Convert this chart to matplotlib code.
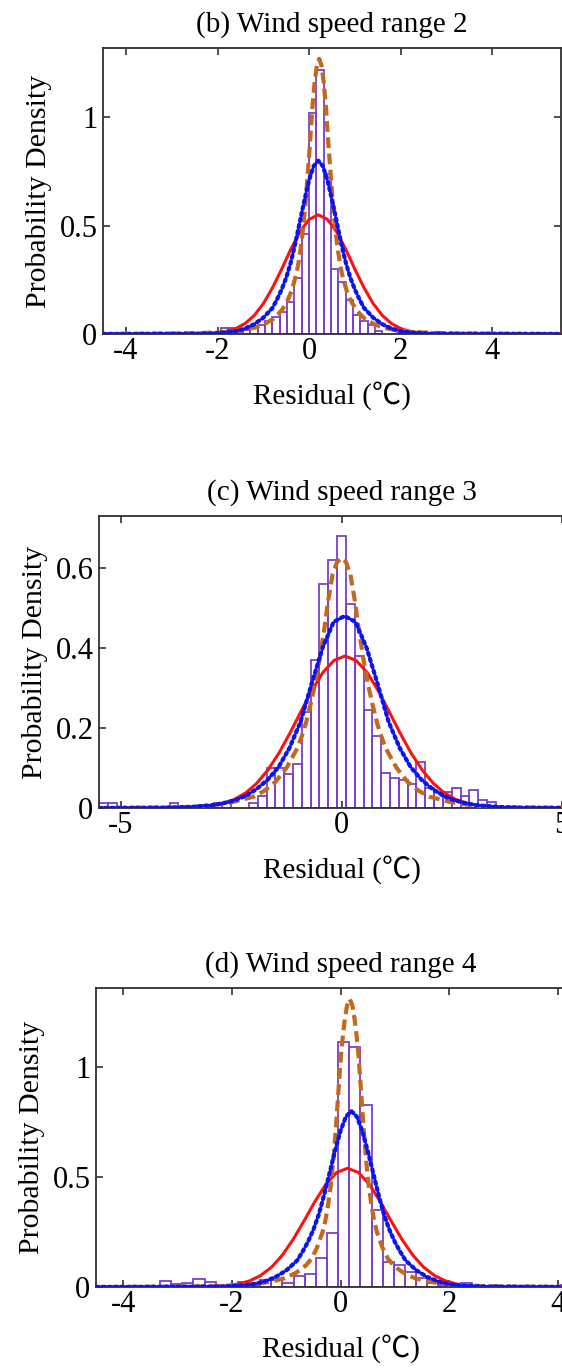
"""
plot.py - residual probability density by wind speed range (histogram + fitted pdfs).
"""

from __future__ import annotations

import matplotlib

matplotlib.use("Agg")
import matplotlib.pyplot as plt
from matplotlib.ticker import FormatStrFormatter

# ---------------------------------------------------------------- data
TITLES = ["(b) Wind speed range 2", "(c) Wind speed range 3", "(d) Wind speed range 4"]
XLABEL = "Residual (\u2103)"
YLABEL = "Probability Density"

# (b) wind speed range 2
B_HIST_CENTERS = [-3.72, -2.78, -2.32, -2.16, -1.84, -1.68, -1.52, -1.36, -1.2, -1.04,
                  -0.88, -0.72, -0.56, -0.4, -0.24, -0.08, 0.08, 0.24, 0.4, 0.56,
                  0.72, 0.88, 1.04, 1.2, 1.36, 1.52, 2.0, 2.16, 2.32, 2.48, 2.64]
B_HIST_HEIGHTS = [0.006, 0.006, 0.006, 0.006, 0.03, 0.03, 0.01, 0.02, 0.03, 0.04,
                  0.06, 0.08, 0.10, 0.15, 0.26, 0.46, 1.02, 1.22, 0.74, 0.30,
                  0.24, 0.155, 0.09, 0.06, 0.04, 0.015, 0.006, 0.006, 0.006, 0.006, 0.006]
B_RED_X = [-4.5, -2.4, -2.2, -2.0, -1.8, -1.6, -1.4, -1.2, -1.0, -0.8, -0.6, -0.4, -0.2,
           0.0, 0.2, 0.4, 0.6, 0.8, 1.0, 1.2, 1.4, 1.6, 1.8, 2.0, 2.2, 2.4, 2.6, 2.8, 5.5]
B_RED_Y = [0, 0.0009, 0.0024, 0.0055, 0.012, 0.025, 0.048, 0.085, 0.140, 0.213, 0.299,
           0.391, 0.472, 0.529, 0.550, 0.529, 0.472, 0.391, 0.299, 0.213, 0.140, 0.085,
           0.048, 0.025, 0.012, 0.0055, 0.0024, 0.0009, 0]
B_BLUE_X = [-4.5, -2.2, -1.8, -1.6, -1.4, -1.2, -1.0, -0.8, -0.7, -0.6, -0.5, -0.4, -0.3,
            -0.2, -0.1, 0.0, 0.1, 0.2, 0.3, 0.4, 0.5, 0.6, 0.7, 0.8, 0.9, 1.0, 1.1, 1.2,
            1.4, 1.6, 1.8, 2.0, 2.2, 2.6, 5.5]
B_BLUE_Y = [0, 0.002, 0.007, 0.013, 0.025, 0.045, 0.075, 0.12, 0.16, 0.205, 0.26, 0.33,
            0.42, 0.52, 0.62, 0.71, 0.775, 0.80, 0.775, 0.71, 0.62, 0.52, 0.42, 0.33,
            0.26, 0.205, 0.16, 0.12, 0.075, 0.045, 0.025, 0.013, 0.007, 0.002, 0]
B_BROWN_X = [-4.5, -2.78, -2.28, -1.78, -1.38, -1.18, -0.98, -0.78, -0.68, -0.58, -0.48,
             -0.38, -0.28, -0.23, -0.18, -0.13, -0.08, -0.03, 0.02, 0.07, 0.12, 0.17,
             0.22, 0.27, 0.32, 0.37, 0.42, 0.47, 0.52, 0.57, 0.62, 0.67, 0.72, 0.82,
             0.92, 1.02, 1.12, 1.22, 1.42, 1.62, 1.82, 2.22, 2.72, 3.22, 5.5]
B_BROWN_Y = [0, 0.002, 0.005, 0.01, 0.02, 0.03, 0.045, 0.07, 0.09, 0.115, 0.15, 0.20,
             0.275, 0.33, 0.40, 0.49, 0.60, 0.74, 0.88, 1.04, 1.16, 1.24, 1.27, 1.24,
             1.16, 1.04, 0.88, 0.74, 0.60, 0.49, 0.40, 0.33, 0.275, 0.20, 0.15, 0.115,
             0.09, 0.07, 0.045, 0.03, 0.02, 0.01, 0.005, 0.002, 0]

# (c) wind speed range 3
C_HIST_CENTERS = [-5.4, -5.2, -3.8, -2.8, -2.6, -2.0, -1.8, -1.6, -1.4, -1.2, -1.0, -0.8,
                  -0.6, -0.4, -0.2, 0.0, 0.2, 0.4, 0.6, 0.8, 1.0, 1.2, 1.4, 1.6, 1.8,
                  2.0, 2.2, 2.4, 2.6, 2.8, 3.0, 3.2, 3.4, 5.2]
C_HIST_HEIGHTS = [0.012, 0.012, 0.012, 0.012, 0.012, 0.012, 0.03, 0.10, 0.10, 0.085,
                  0.11, 0.24, 0.37, 0.56, 0.62, 0.68, 0.51, 0.38, 0.245, 0.18, 0.087,
                  0.075, 0.07, 0.06, 0.115, 0.05, 0.04, 0.04, 0.05, 0.03, 0.045, 0.02,
                  0.015, 0.01]
C_RED_X = [-5.5, -3.92, -3.42, -2.92, -2.67, -2.42, -2.17, -1.92, -1.67, -1.42, -1.17,
           -0.92, -0.67, -0.42, -0.17, 0.08, 0.33, 0.58, 0.83, 1.08, 1.33, 1.58, 1.83,
           2.08, 2.33, 2.58, 2.83, 3.08, 3.58, 4.08, 5.5]
C_RED_Y = [0, 0.0003, 0.0015, 0.0064, 0.012, 0.022, 0.038, 0.062, 0.095, 0.137, 0.187,
           0.241, 0.294, 0.339, 0.369, 0.38, 0.369, 0.339, 0.294, 0.241, 0.187, 0.137,
           0.095, 0.062, 0.038, 0.022, 0.012, 0.0064, 0.0015, 0.0003, 0]
C_BLUE_X = [-5.5, -3.93, -3.43, -2.93, -2.68, -2.43, -2.18, -1.93, -1.68, -1.43, -1.18,
            -0.93, -0.68, -0.43, -0.18, 0.07, 0.32, 0.57, 0.82, 1.07, 1.32, 1.57, 1.82,
            2.07, 2.32, 2.57, 2.82, 3.07, 3.57, 4.07, 5.5]
C_BLUE_Y = [0, 0.001, 0.0025, 0.007, 0.012, 0.019, 0.03, 0.047, 0.07, 0.102, 0.15, 0.215,
            0.31, 0.40, 0.465, 0.48, 0.465, 0.40, 0.31, 0.215, 0.15, 0.102, 0.07, 0.047,
            0.03, 0.019, 0.012, 0.007, 0.0025, 0.001, 0]
C_BROWN_X = [-5.5, -4.0, -3.5, -3.0, -2.5, -2.0, -1.75, -1.5, -1.25, -1.0, -0.9, -0.8,
             -0.7, -0.6, -0.5, -0.4, -0.3, -0.2, -0.1, 0.0, 0.1, 0.2, 0.3, 0.4, 0.5, 0.6,
             0.7, 0.8, 0.9, 1.0, 1.25, 1.5, 1.75, 2.0, 2.5, 3.0, 3.5, 4.0, 5.5]
C_BROWN_Y = [0, 0.001, 0.0025, 0.006, 0.014, 0.028, 0.043, 0.065, 0.10, 0.15, 0.18, 0.215,
             0.26, 0.31, 0.37, 0.44, 0.52, 0.585, 0.615, 0.625, 0.615, 0.585, 0.52, 0.44,
             0.37, 0.31, 0.26, 0.215, 0.18, 0.15, 0.10, 0.065, 0.043, 0.028, 0.014,
             0.006, 0.0025, 0.001, 0]

# (d) wind speed range 4
D_HIST_CENTERS = [-3.22, -3.015, -2.81, -2.605, -2.4, -1.785, -1.58, -1.375, -1.17,
                  -0.965, -0.76, -0.555, -0.35, -0.145, 0.06, 0.265, 0.47, 0.675, 0.88,
                  1.085, 1.29, 1.495, 1.70, 1.905, 2.315, 4.16]
D_HIST_HEIGHTS = [0.026, 0.012, 0.02, 0.035, 0.025, 0.025, 0.01, 0.03, 0.03, 0.02, 0.05,
                  0.06, 0.13, 0.245, 1.115, 1.09, 0.83, 0.35, 0.115, 0.10, 0.07, 0.04,
                  0.02, 0.01, 0.02, 0.01]
D_RED_X = [-4.5, -2.67, -2.27, -2.07, -1.87, -1.67, -1.47, -1.27, -1.07, -0.87, -0.67,
           -0.47, -0.27, -0.07, 0.13, 0.33, 0.53, 0.73, 0.93, 1.13, 1.33, 1.53, 1.73,
           1.93, 2.13, 2.33, 2.53, 2.93, 4.5]
D_RED_Y = [0, 0.0004, 0.0028, 0.0065, 0.014, 0.028, 0.052, 0.090, 0.145, 0.217, 0.301,
           0.389, 0.467, 0.521, 0.54, 0.521, 0.467, 0.389, 0.301, 0.217, 0.145, 0.090,
           0.052, 0.028, 0.014, 0.0065, 0.0028, 0.0004, 0]
D_BLUE_X = [-4.5, -2.2, -1.8, -1.6, -1.4, -1.2, -1.0, -0.8, -0.7, -0.6, -0.5, -0.4, -0.3,
            -0.2, -0.1, 0.0, 0.1, 0.2, 0.3, 0.4, 0.5, 0.6, 0.7, 0.8, 0.9, 1.0, 1.1, 1.2,
            1.4, 1.6, 1.8, 2.0, 2.2, 2.6, 4.5]
D_BLUE_Y = [0, 0.002, 0.007, 0.013, 0.025, 0.045, 0.075, 0.12, 0.16, 0.205, 0.26, 0.33,
            0.42, 0.52, 0.62, 0.71, 0.775, 0.80, 0.775, 0.71, 0.62, 0.52, 0.42, 0.33,
            0.26, 0.205, 0.16, 0.12, 0.075, 0.045, 0.025, 0.013, 0.007, 0.002, 0]
D_BROWN_X = [-4.5, -2.83, -2.33, -1.83, -1.43, -1.23, -1.03, -0.83, -0.73, -0.63, -0.53,
             -0.43, -0.33, -0.28, -0.23, -0.18, -0.13, -0.08, -0.03, 0.02, 0.07, 0.12,
             0.17, 0.22, 0.27, 0.32, 0.37, 0.42, 0.47, 0.52, 0.57, 0.62, 0.67, 0.77,
             0.87, 0.97, 1.07, 1.17, 1.37, 1.57, 1.77, 2.17, 2.67, 3.17, 4.5]
D_BROWN_Y = [0, 0.002, 0.004, 0.008, 0.018, 0.027, 0.04, 0.063, 0.08, 0.10, 0.13, 0.18,
             0.25, 0.30, 0.37, 0.46, 0.58, 0.74, 0.92, 1.09, 1.2, 1.28, 1.31, 1.28, 1.2,
             1.09, 0.92, 0.74, 0.58, 0.46, 0.37, 0.30, 0.25, 0.18, 0.13, 0.10, 0.08,
             0.063, 0.04, 0.027, 0.018, 0.008, 0.004, 0.002, 0]

# ---------------------------------------------------------------- style
PURPLE = "#7B3FCC"
RED = "#FF1010"
BLUE = "#0A14F0"
BROWN = "#C4681E"
SPINE = "#303030"
FONT = ["Liberation Serif", "Noto Sans CJK SC", "DejaVu Serif"]
FS_TICK = 22
FS_TITLE = 21
FS_YLAB = 21.5
FS_XLAB = 21

W, H = 562, 1369


def _rect(left, top, right, bottom):
    """pixel box -> figure fraction rect"""
    return [left / W, (H - bottom) / H, (right - left) / W, (bottom - top) / H]


def draw_panel(ax, title, centers, heights, bin_w, red, blue, brown,
               xlim, ylim, xticks, yticks):
    ax.bar(centers, heights, width=bin_w, fill=False, edgecolor=PURPLE,
           linewidth=1.3, zorder=2)
    ax.plot(red[0], red[1], color=RED, lw=2.2, zorder=3)
    ax.plot(brown[0], brown[1], color=BROWN, lw=3.0, ls=(0, (2.6, 1.3)), zorder=4)
    ax.plot(blue[0], blue[1], color=BLUE, lw=3.0, ls=(0, (0.6, 0.9)),
            dash_capstyle="round", zorder=5)

    ax.set_xlim(*xlim)
    ax.set_ylim(*ylim)
    ax.set_xticks(xticks)
    ax.set_yticks(yticks)
    ax.yaxis.set_major_formatter(FormatStrFormatter("%g"))
    ax.xaxis.set_major_formatter(FormatStrFormatter("%g"))
    ax.tick_params(direction="in", top=True, right=True, length=5, width=1.2,
                   color=SPINE, labelsize=FS_TICK)
    ax.tick_params(axis="x", pad=2)
    ax.tick_params(axis="y", pad=4)
    for lab in ax.get_xticklabels() + ax.get_yticklabels():
        lab.set_family(FONT)
    for s in ax.spines.values():
        s.set_color(SPINE)
        s.set_linewidth(1.3)

    ax.set_title(title, fontsize=FS_TITLE, family=FONT, pad=12)
    ax.set_xlabel(XLABEL, fontsize=FS_XLAB, family=FONT, labelpad=11)
    ax.set_ylabel(YLABEL, fontsize=FS_YLAB, family=FONT, labelpad=5)


def main() -> int:
    plt.rcParams["axes.unicode_minus"] = False
    fig = plt.figure(figsize=(W / 100, H / 100), dpi=100)

    ax_b = fig.add_axes(_rect(103, 48, 561, 334))
    draw_panel(ax_b, TITLES[0], B_HIST_CENTERS, B_HIST_HEIGHTS, 0.16,
               (B_RED_X, B_RED_Y), (B_BLUE_X, B_BLUE_Y), (B_BROWN_X, B_BROWN_Y),
               (-4.5, 5.5), (0, 1.32), [-4, -2, 0, 2, 4], [0, 0.5, 1])

    ax_c = fig.add_axes(_rect(99, 516, 584, 808))
    draw_panel(ax_c, TITLES[1], C_HIST_CENTERS, C_HIST_HEIGHTS, 0.2,
               (C_RED_X, C_RED_Y), (C_BLUE_X, C_BLUE_Y), (C_BROWN_X, C_BROWN_Y),
               (-5.5, 5.5), (0, 0.73), [-5, 0, 5], [0, 0.2, 0.4, 0.6])

    ax_d = fig.add_axes(_rect(96, 988, 585, 1287))
    draw_panel(ax_d, TITLES[2], D_HIST_CENTERS, D_HIST_HEIGHTS, 0.205,
               (D_RED_X, D_RED_Y), (D_BLUE_X, D_BLUE_Y), (D_BROWN_X, D_BROWN_Y),
               (-4.5, 4.5), (0, 1.36), [-4, -2, 0, 2, 4], [0, 0.5, 1])

    fig.savefig("out.png", dpi=100)
    plt.close(fig)
    return 0


if __name__ == "__main__":
    raise SystemExit(main())
